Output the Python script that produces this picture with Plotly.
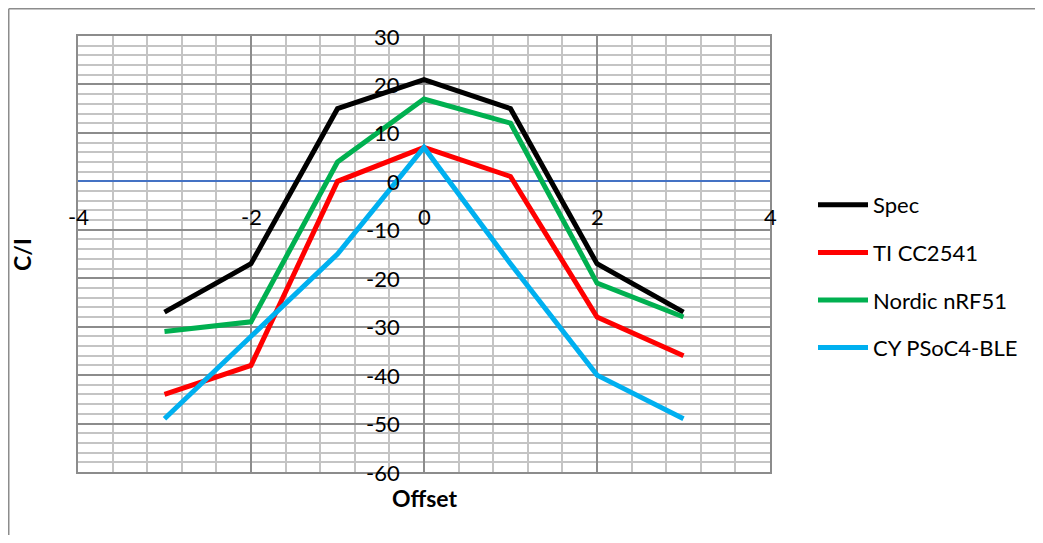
import plotly.graph_objects as go

# Data
offset = [-3, -2, -1, 0, 1, 2, 3]
spec = [-27, -17, 15, 21, 15, -17, -27]
ti_cc2541 = [-44, -38, 0, 7, 1, -28, -36]
nordic_nrf51 = [-31, -29, 4, 17, 12, -21, -28]
cy_psoc4_ble = [-49, -32, -15, 7, -17, -40, -49]

x_ticks = [-4, -2, 0, 2, 4]
y_ticks = [30, 20, 10, 0, -10, -20, -30, -40, -50, -60]

series = [
    ("Spec", spec, "#000000"),
    ("TI CC2541", ti_cc2541, "#FF0000"),
    ("Nordic nRF51", nordic_nrf51, "#00B050"),
    ("CY PSoC4-BLE", cy_psoc4_ble, "#00B0F0"),
]

FONT = "Lato, Calibri, sans-serif"
# page body has an 8px margin, so the figure is sized to fit inside it
W, H = 1027, 527
L, R, T, B = 70, 265, 28, 63
pw, ph = W - L - R, H - T - B


def px(x):
    # page x pixel -> paper x
    return (x - 78) / pw


def py(y):
    # page y pixel -> paper y
    return (472 - y) / ph


fig = go.Figure()

for i, (name, vals, color) in enumerate(series):
    fig.add_trace(
        go.Scatter(
            x=offset,
            y=vals,
            mode="lines",
            name=name,
            legendgroup=str(i),
            line=dict(color=color, width=5),
        )
    )

# Tick labels sit next to the crossing axes (Excel style)
annotations = []
for xv in x_ticks:
    annotations.append(
        dict(x=xv, y=0, xref="x", yref="y", text=str(xv), showarrow=False,
             yshift=-35, font=dict(size=22, color="#000"))
    )
for yv in y_ticks:
    annotations.append(
        dict(x=0, y=yv, xref="x", yref="y", text=str(yv), showarrow=False,
             xanchor="right", xshift=-22, font=dict(size=22, color="#000"))
    )

annotations.append(
    dict(x=px(22), y=py(255), xref="paper", yref="paper",
         xanchor="center", yanchor="middle",
         text="<b>C/I</b>", textangle=-90, showarrow=False,
         font=dict(size=23, color="#000"))
)
annotations.append(
    dict(x=0.5, y=py(498), xref="paper", yref="paper",
         xanchor="center", yanchor="middle",
         text="<b>Offset</b>", showarrow=False, font=dict(size=23, color="#000"))
)

fig.update_layout(
    width=W,
    height=H,
    margin=dict(l=L, r=R, t=T, b=B),
    paper_bgcolor="white",
    plot_bgcolor="white",
    font=dict(family=FONT, size=22, color="#000"),
    showlegend=True,
    legend=dict(
        x=px(813),
        y=py(184),
        xanchor="left",
        yanchor="top",
        tracegroupgap=16,
        itemwidth=50,
        font=dict(size=22),
        bgcolor="rgba(0,0,0,0)",
    ),
    annotations=annotations,
    shapes=[
        dict(type="line", xref="paper", yref="paper",
             x0=px(8.75), x1=px(8.75), y0=py(8.75), y1=py(560),
             line=dict(color="#8c8c8c", width=1.5)),
        dict(type="line", xref="paper", yref="paper",
             x0=px(8.75), x1=px(1060), y0=py(8.75), y1=py(8.75),
             line=dict(color="#8c8c8c", width=1.5)),
    ],
)

fig.update_xaxes(
    range=[-4, 4],
    tick0=0,
    dtick=2,
    showticklabels=False,
    ticks="",
    showline=True,
    mirror=True,
    linecolor="#8c8c8c",
    linewidth=1.5,
    showgrid=True,
    gridcolor="#8c8c8c",
    gridwidth=1.5,
    zeroline=False,
    minor=dict(dtick=0.4, tick0=0, showgrid=True, gridcolor="#c4c4c4", gridwidth=1.5),
)
fig.update_yaxes(
    range=[-60, 30],
    tick0=0,
    dtick=10,
    showticklabels=False,
    ticks="",
    showline=True,
    mirror=True,
    linecolor="#8c8c8c",
    linewidth=1.5,
    showgrid=True,
    gridcolor="#8c8c8c",
    gridwidth=1.5,
    zeroline=True,
    zerolinecolor="#4472C4",
    zerolinewidth=1.5,
    minor=dict(dtick=2, tick0=0, showgrid=True, gridcolor="#c4c4c4", gridwidth=1.5),
)

fig.write_html("out.html")
